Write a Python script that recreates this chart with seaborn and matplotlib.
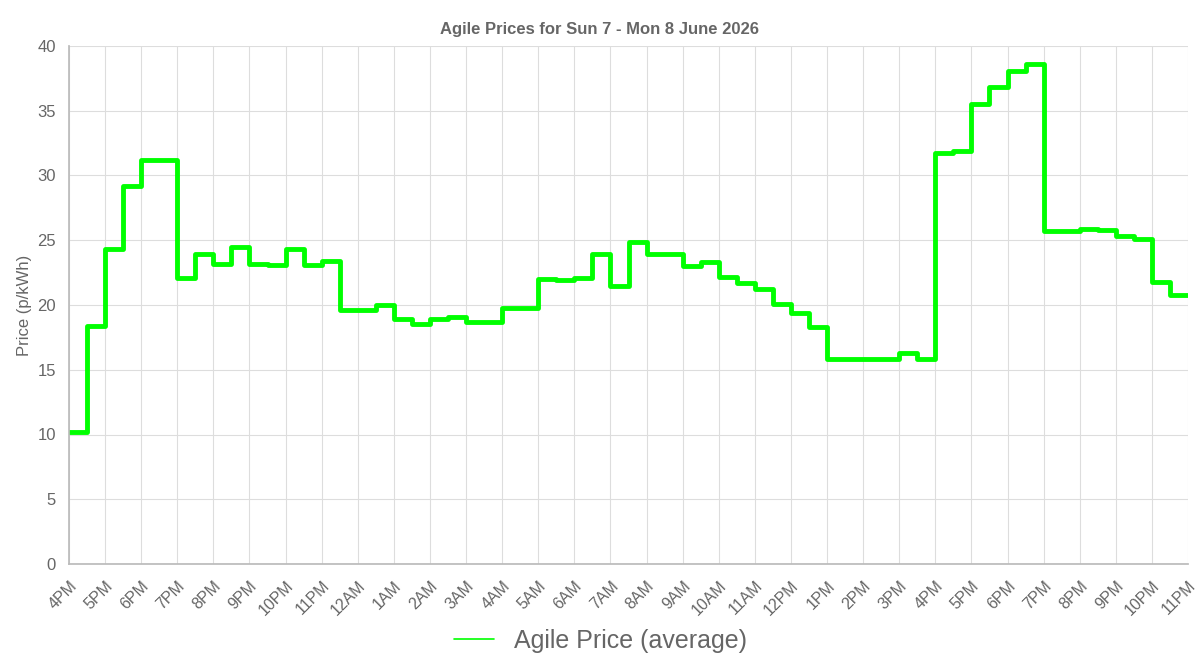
import matplotlib
matplotlib.use("Agg")
import matplotlib.pyplot as plt
from matplotlib.lines import Line2D
import seaborn as sns
import pandas as pd
import numpy as np

prices = [10.2, 18.4, 24.3, 29.2, 31.2, 31.2, 22.1, 23.9, 23.2, 24.5, 23.2, 23.1, 24.3, 23.1, 23.4,
          19.6, 19.6, 20.0, 18.9, 18.5, 18.9, 19.1, 18.7, 18.7, 19.8, 19.8, 22.0, 21.9, 22.1, 23.9,
          21.5, 24.9, 23.9, 23.9, 23.0, 23.3, 22.2, 21.7, 21.2, 20.1, 19.4, 18.3, 15.8, 15.8, 15.8,
          15.8, 16.3, 15.8, 31.7, 31.9, 35.5, 36.8, 38.1, 38.6, 25.7, 25.7, 25.9, 25.8, 25.3, 25.1,
          21.8, 20.8, 20.8]
tick_labels = ["4PM", "5PM", "6PM", "7PM", "8PM", "9PM", "10PM", "11PM", "12AM", "1AM", "2AM", "3AM",
               "4AM", "5AM", "6AM", "7AM", "8AM", "9AM", "10AM", "11AM", "12PM", "1PM", "2PM", "3PM",
               "4PM", "5PM", "6PM", "7PM", "8PM", "9PM", "10PM", "11PM"]

df = pd.DataFrame({"slot": np.arange(len(prices)) / 2.0, "price": prices})

sns.set_theme(style="white")
plt.rcParams['font.family'] = ['Liberation Sans', 'DejaVu Sans']
fig = plt.figure(figsize=(12, 6.67), dpi=100)
ax = fig.add_axes([69/1200, 1-564/667, (1188-69)/1200, (564-46)/667])
sns.lineplot(data=df, x="slot", y="price", drawstyle="steps-post", color="#00ff00",
             linewidth=3.5, ax=ax, legend=False)
ax.set_xlim(0, 31)
ax.set_ylim(0, 40)
ax.set_xticks(range(32))
ax.set_xticklabels(tick_labels, rotation=45, ha="right", rotation_mode="anchor", fontsize=11.5, color="#666666")
ax.set_yticks(range(0, 41, 5))
ax.tick_params(axis="y", labelsize=12, labelcolor="#666666")
ax.tick_params(axis="x", pad=4)
ax.grid(True, color="#dddddd", linewidth=0.8)
for s in ["top", "right"]:
    ax.spines[s].set_visible(False)
for s in ["left", "bottom"]:
    ax.spines[s].set_color("#bbbbbb")
ax.set_xlabel("")
ax.set_ylabel("Price (p/kWh)", fontsize=12, color="#666666")
fig.suptitle("Agile Prices for Sun 7 - Mon 8 June 2026", y=1-22/667, fontsize=12,
             fontweight="bold", color="#666666")
handle = Line2D([], [], color="#00ff00", linewidth=1.2)
fig.legend([handle], ["Agile Price (average)"], loc="center", bbox_to_anchor=(0.5, 1-641/667),
           frameon=False, fontsize=18, labelcolor="#666666", handlelength=1.6)
fig.savefig("out.png", dpi=100)
